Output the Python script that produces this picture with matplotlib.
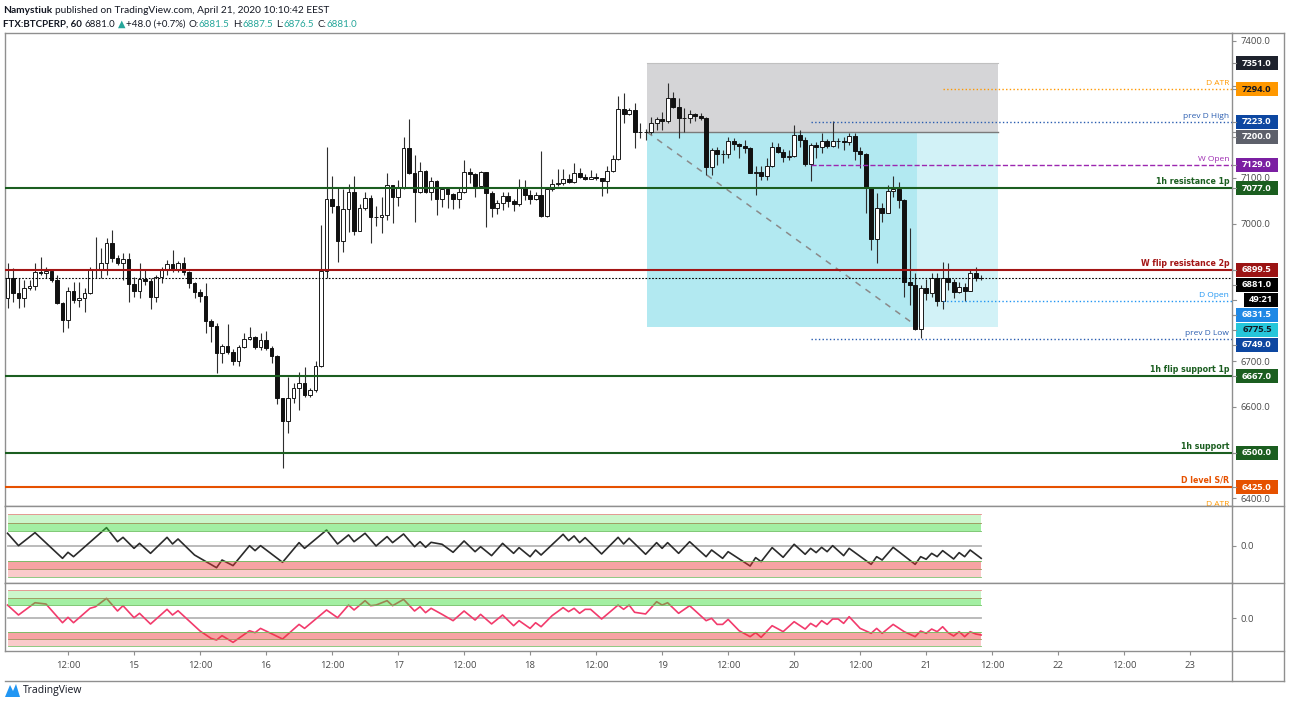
import numpy as np
import pandas as pd
import matplotlib
matplotlib.use("Agg")
import matplotlib.pyplot as plt
from matplotlib.patches import Rectangle, Polygon
from matplotlib.lines import Line2D

plt.rcParams["font.family"] = ["Open Sans", "DejaVu Sans"]

W, H = 1290, 706

# FTX:BTCPERP hourly candles, first bar 14 Apr 2020 01:00 (EEST)
first_bar = "2020-04-14 01:00"
open0 = 6838
closes = [
    6882, 6849, 6838, 6860, 6864, 6895, 6893, 6896, 6877, 6827,
    6790, 6853, 6834, 6838, 6849, 6899, 6901, 6914, 6958, 6925,
    6914, 6923, 6868, 6853, 6879, 6875, 6840, 6884, 6899, 6912,
    6899, 6914, 6895, 6871, 6851, 6842, 6788, 6777, 6718, 6733,
    6720, 6700, 6731, 6748, 6753, 6731, 6746, 6729, 6711, 6620,
    6569, 6620, 6642, 6652, 6626, 6637, 6689, 6897, 7054, 7039,
    6962, 7032, 7069, 6984, 7034, 7056, 7015, 7015, 7019, 7085,
    7058, 7078, 7166, 7111, 7069, 7115, 7069, 7093, 7054, 7076,
    7065, 7054, 7069, 7113, 7109, 7082, 7113, 7067, 7034, 7045,
    7061, 7050, 7043, 7080, 7063, 7054, 7063, 7017, 7076, 7087,
    7089, 7098, 7091, 7111, 7102, 7098, 7102, 7101, 7093, 7115,
    7141, 7251, 7240, 7248, 7200, 7200, 7200, 7220, 7229, 7224,
    7275, 7255, 7231, 7231, 7240, 7235, 7231, 7124, 7161, 7152,
    7152, 7181, 7174, 7170, 7165, 7111, 7113, 7104, 7126, 7168,
    7157, 7146, 7148, 7194, 7183, 7130, 7172, 7168, 7181, 7170,
    7181, 7181, 7179, 7192, 7159, 7152, 7080, 6967, 7034, 7024,
    7072, 7076, 7052, 6873, 6866, 6770, 6860, 6849, 6882, 6831.5,
    6882, 6873, 6851, 6862, 6853, 6893, 6881.5, 6881.0,
]
highs = [
    6914, 6903, 6882, 6877, 6877, 6914, 6927, 6905, 6899, 6888,
    6829, 6862, 6873, 6873, 6860, 6906, 6971, 6947, 6969, 6986,
    6932, 6936, 6936, 6884, 6914, 6899, 6882, 6888, 6906, 6921,
    6943, 6919, 6927, 6897, 6873, 6857, 6871, 6792, 6783, 6737,
    6781, 6726, 6735, 6761, 6775, 6755, 6761, 6766, 6733, 6713,
    6620, 6665, 6652, 6676, 6687, 6641, 6700, 6997, 7167, 7104,
    7078, 7076, 7087, 7104, 7043, 7069, 7063, 7039, 7058, 7111,
    7080, 7096, 7190, 7229, 7150, 7135, 7117, 7102, 7096, 7078,
    7078, 7067, 7078, 7139, 7122, 7111, 7115, 7113, 7072, 7052,
    7069, 7069, 7054, 7098, 7096, 7074, 7069, 7159, 7078, 7098,
    7119, 7119, 7109, 7133, 7122, 7109, 7117, 7111, 7100, 7126,
    7150, 7279, 7286, 7253, 7264, 7220, 7207, 7233, 7233, 7244,
    7307, 7288, 7275, 7253, 7248, 7242, 7242, 7233, 7165, 7168,
    7161, 7190, 7187, 7176, 7183, 7168, 7126, 7126, 7143, 7178,
    7176, 7163, 7161, 7216, 7205, 7190, 7176, 7179, 7198, 7185,
    7225, 7187, 7190, 7198, 7198, 7168, 7154, 7080, 7067, 7045,
    7085, 7104, 7091, 7054, 6991, 6892, 6866, 6879, 6892, 6892,
    6917, 6914, 6879, 6873, 6871, 6899, 6905, 6887.5,
]
lows = [
    6816, 6829, 6816, 6818, 6855, 6855, 6888, 6881, 6873, 6825,
    6764, 6772, 6827, 6818, 6807, 6847, 6881, 6881, 6888, 6916,
    6910, 6877, 6829, 6840, 6838, 6866, 6814, 6829, 6871, 6888,
    6895, 6895, 6888, 6860, 6838, 6829, 6761, 6742, 6674, 6696,
    6716, 6692, 6689, 6729, 6746, 6727, 6724, 6724, 6696, 6606,
    6467, 6543, 6609, 6593, 6622, 6622, 6633, 6687, 6882, 7024,
    6917, 6938, 6982, 6976, 6984, 7030, 6958, 6995, 6980, 7008,
    7002, 7039, 7076, 7109, 7004, 7067, 7067, 7052, 7019, 7037,
    7034, 7032, 7034, 7067, 7089, 7058, 7078, 6993, 7015, 7021,
    7030, 7037, 7028, 7039, 7052, 7043, 7052, 7015, 7015, 7071,
    7082, 7085, 7089, 7089, 7100, 7096, 7098, 7096, 7061, 7067,
    7113, 7139, 7220, 7237, 7165, 7187, 7183, 7196, 7205, 7205,
    7220, 7253, 7187, 7200, 7220, 7224, 7226, 7106, 7106, 7128,
    7132, 7143, 7161, 7143, 7154, 7111, 7063, 7096, 7096, 7124,
    7154, 7135, 7139, 7146, 7168, 7126, 7093, 7143, 7154, 7165,
    7168, 7165, 7161, 7172, 7139, 7122, 7023, 6943, 6914, 7004,
    7026, 7058, 7034, 6840, 6823, 6768, 6750, 6833, 6840, 6820,
    6814, 6855, 6838, 6849, 6831, 6853, 6875, 6876.5,
]

# two oscillators (turning points only: bar number, value)
osc_black = [
    (1, 1.19), (3, 0.0), (6, 1.25), (11, -1.22), (12, -0.64), (13, -1.06), (19, 1.73),
    (21, 0.38), (22, 0.8), (24, -0.26), (25, 0.22), (27, -0.74), (30, 0.8), (31, 0.16),
    (32, 0.64), (35, -0.9), (39, -2.12), (40, -1.38), (42, -1.92), (45, 0.0), (46, -0.48),
    (47, 0.0), (51, -1.6), (54, 0.29), (55, -0.26), (59, 1.5), (61, 0.16), (63, 1.03),
    (64, 0.38), (66, 1.19), (68, -0.03), (70, 0.87), (71, 0.29), (73, 1.12), (75, -0.1),
    (76, 0.38), (77, -0.16), (78, 0.32), (80, 0.13), (82, -0.64), (84, 0.45), (86, -0.58),
    (87, -0.1), (89, -0.96), (91, 0.22), (93, -0.74), (94, -0.19), (96, -1.06), (97, -0.42),
    (98, -0.9), (102, 1.09), (103, 0.48), (104, 0.93), (105, 0.29), (106, 0.77), (109, -0.8),
    (112, 0.8), (113, 0.16), (114, 0.71), (117, -0.83), (119, 0.29), (120, -0.26), (121, 0.29),
    (123, -0.74), (125, 0.38), (128, -1.06), (129, -0.42), (131, -1.22), (132, -0.58),
    (136, -1.96), (137, -1.15), (138, -1.54), (140, -0.19), (142, -1.12), (144, 0.13),
    (146, -0.83), (147, -0.26), (148, -0.67), (149, -0.16), (150, -0.58), (151, 0.0),
    (153, -0.96), (154, -0.26), (158, -1.8), (159, -1.06), (160, -1.38), (162, -0.16),
    (166, -1.8), (167, -1.06), (168, -1.31), (169, -0.74), (170, -1.06), (171, -0.48),
    (173, -1.28), (174, -0.67), (175, -1.06), (176, -0.42), (178, -1.22),
]
osc_pink = [
    (1, 1.43), (3, 0.36), (6, 1.68), (8, 1.54), (11, -0.47), (12, 0.11), (13, -0.47),
    (16, 1.08), (17, 1.25), (19, 2.15), (21, 0.79), (22, 1.36), (24, 0.07), (25, 0.54),
    (27, -0.61), (30, 0.97), (31, 0.36), (32, 0.82), (36, -1.36), (38, -2.15), (39, -2.33),
    (40, -1.86), (42, -2.58), (45, -1.33), (46, -1.54), (47, -1.08), (51, -2.22), (54, -0.65),
    (55, -1.08), (59, 0.9), (61, 0.07), (63, 1.43), (64, 0.9), (66, 1.9), (67, 1.36),
    (68, 1.43), (70, 1.9), (71, 1.36), (73, 2.04), (75, 0.79), (76, 1.25), (77, 0.61),
    (78, 1.08), (80, 0.43), (82, -0.25), (84, 0.79), (86, -0.18), (87, 0.43), (89, -0.6),
    (91, 0.36), (93, -0.79), (94, -0.25), (96, -1.08), (97, -0.47), (98, -0.9), (100, 0.29),
    (102, 1.15), (103, 0.72), (104, 1.08), (105, 0.54), (106, 0.97), (107, 0.97), (109, -0.07),
    (112, 1.43), (113, 0.97), (114, 1.43), (115, 0.65), (117, 0.47), (119, 1.79), (120, 1.43),
    (121, 1.68), (123, 0.54), (125, 1.36), (128, -0.25), (129, 0.0), (130, -0.65), (131, -0.65),
    (132, -0.11), (134, -1.33), (136, -1.97), (137, -1.54), (138, -2.04), (140, -0.79),
    (142, -1.43), (144, -0.36), (146, -1.15), (147, -0.54), (148, -0.9), (149, -0.25),
    (150, -0.65), (151, -0.07), (152, -0.07), (153, -0.54), (154, 0.18), (156, -1.08),
    (158, -1.61), (159, -1.08), (160, -1.61), (162, -0.65), (164, -1.43), (166, -1.97),
    (167, -1.36), (168, -1.61), (169, -1.15), (170, -1.43), (171, -0.9), (172, -1.54),
    (173, -1.9), (174, -1.43), (175, -1.97), (176, -1.43), (177, -1.68), (178, -1.79),
]
band_levels = [1.45, 2.2, 3.0]

# levels across the full chart
full_prices = [7077, 6899.5, 6667, 6500, 6425]
full_names = ["1h resistance 1p", "W flip resistance 2p", "1h flip support 1p", "1h support", "D level S/R"]
full_colors = ["#1b5e20", "#a31515", "#1b5e20", "#1b5e20", "#e65100"]

# levels starting at a given time
part_prices = [7294, 7223, 7129, 6831.5, 6749]
part_names = ["D ATR", "prev D High", "W Open", "D Open", "prev D Low"]
part_starts = ["2020-04-21 03:00", "2020-04-20 03:00", "2020-04-20 03:00", "2020-04-21 03:00", "2020-04-20 03:00"]
part_colors = ["#ff9800", "#2a5db0", "#9c27b0", "#2196f3", "#2a5db0"]
part_styles = [":", ":", "--", ":", ":"]
part_tag_colors = ["#ff9800", "#0d47a1", "#7b1fa2", "#1e88e5", "#0d47a1"]

# short position tool
pos_entry, pos_stop, pos_target = 7200, 7351, 6775.5
pos_start, pos_hit, pos_end = "2020-04-18 21:18", "2020-04-20 22:24", "2020-04-21 13:06"

last_price = 6881.0
countdown = "49:21"

tick_labels = ["12:00", "15", "12:00", "16", "12:00", "17", "12:00", "18", "12:00",
               "19", "12:00", "20", "12:00", "21", "12:00", "22", "12:00", "23"]

base = pd.Timestamp("2020-04-14 00:00")


def hrs(ts):
    return (pd.to_datetime(ts) - base) / pd.Timedelta(hours=1)


t = np.asarray(hrs(pd.date_range(first_bar, periods=len(closes), freq="h")))
c = np.array(closes, float)
o = np.concatenate([[open0], c[:-1]])
hi = np.array(highs, float)
lo = np.array(lows, float)

fig = plt.figure(figsize=(W / 100, H / 100), dpi=100)


def rect(x0, y0, x1, y1):
    return [x0 / W, 1 - y1 / H, (x1 - x0) / W, (y1 - y0) / H]


ax = fig.add_axes(rect(5, 33, 1232, 506))
ax2 = fig.add_axes(rect(5, 506, 1232, 583), sharex=ax)
ax3 = fig.add_axes(rect(5, 583, 1232, 651), sharex=ax)

ax.set_xlim(0.545, 223.6)
ax.set_ylim(6383.6, 7416.6)
border = "#8f8f8f"
for a in (ax, ax2, ax3):
    for s in a.spines.values():
        s.set_color(border)
        s.set_linewidth(1)
    a.tick_params(axis="x", bottom=False, labelbottom=False)
    a.yaxis.tick_right()
    a.tick_params(axis="y", length=3, color=border, labelsize=6.8, labelcolor="#4a4a4a", pad=3)

# position tool
x0, xh, x1 = hrs(pos_start), hrs(pos_hit), hrs(pos_end)
ax.add_patch(Rectangle((x0, pos_entry), x1 - x0, pos_stop - pos_entry, facecolor="#d5d5d7", edgecolor="none", zorder=1))
ax.add_patch(Rectangle((x0, pos_target), xh - x0, pos_entry - pos_target, facecolor="#b2e9f1", edgecolor="none", zorder=1))
ax.add_patch(Rectangle((xh, pos_target), x1 - xh, pos_entry - pos_target, facecolor="#d2f2f7", edgecolor="none", zorder=1))
ax.plot([x0, x1], [pos_entry, pos_entry], color="#7a7a7a", lw=1, zorder=1.5)
ax.plot([x0, x1], [pos_stop, pos_stop], color="#c0c0c0", lw=0.8, zorder=1.5)
ax.plot([x0, xh], [pos_entry, pos_target], color="#8a8a8a", lw=1.1, ls=(0, (4, 4)), zorder=2)

# candles
up = c >= o
ax.vlines(t, lo, hi, color="#2e2e2e", lw=0.8, zorder=3)
ax.bar(t[up], (c - o)[up], bottom=o[up], width=0.7, color="white", edgecolor="#1a1a1a", lw=0.7, zorder=4)
ax.bar(t[~up], (c - o)[~up], bottom=o[~up], width=0.7, color="#111111", edgecolor="#111111", lw=0.7, zorder=4)

# levels
lab = dict(xycoords=ax.get_yaxis_transform(), xytext=(-2, 1.5), textcoords="offset points",
           ha="right", va="bottom", zorder=6)
for p, n, col in zip(full_prices, full_names, full_colors):
    ax.axhline(p, color=col, lw=1.5, zorder=5)
    ax.annotate(n, xy=(1, p), color=col, fontsize=5.7, fontweight="bold", family="DejaVu Sans", **lab)
for p, n, st, col, ls in zip(part_prices, part_names, part_starts, part_colors, part_styles):
    ax.plot([hrs(st), 223.6], [p, p], color=col, lw=1, ls=ls, zorder=5)
    ax.annotate(n, xy=(1, p), color=col, fontsize=6, **lab)
ax.axhline(last_price, color="black", lw=0.8, ls=(0, (1.5, 1.5)), zorder=5)
# lower D ATR line lies below the view, only its label peeks in
low_atr = ax.annotate("D ATR", xy=(1, 6374), color="#ff9800", fontsize=6, annotation_clip=False, **lab)
low_atr.set_clip_path(ax.patch)

ticks = np.arange(6400, 7401, 100)
hidden = {7300, 7200, 6900, 6800, 6500}
ax.set_yticks(ticks)
ax.set_yticklabels(["" if v in hidden else f"{v:.1f}" for v in ticks])

# price tags on the right scale
tags = [(pos_stop, "#1e222d", "white"), (pos_entry, "#5d606b", "white"), (pos_target, "#26c6da", "#131722")]
tags += [(p, col, "white") for p, col in zip(full_prices, ["#1b5e20", "#9b1414", "#1b5e20", "#1b5e20", "#e65100"])]
tags += [(p, col, "#131722" if col == "#ff9800" else "white") for p, col in zip(part_prices, part_tag_colors)]
tags.append((last_price, "#000000", "white"))
tags.sort(key=lambda r: -r[0])

prev = -100
for p, bg, fg in tags:
    y = H - ax.transData.transform((0, p))[1]
    y = max(y, prev + 15)
    prev = y
    entries = [(y, f"{p:.1f}", bg, fg, 1236)]
    if p == last_price:
        prev = y + 15
        entries.append((prev, countdown, "#000000", "white", 1244))
    for yy, s, b, f, xl in entries:
        fig.add_artist(Rectangle((xl / W, 1 - (yy + 7) / H), (1278 - xl) / W, 14 / H,
                                 transform=fig.transFigure, facecolor=b, edgecolor="none", zorder=5))
        fig.add_artist(Line2D([1232 / W, 1236 / W], [1 - yy / H] * 2, color=border, lw=0.8, zorder=5))
        fig.text((xl + 1278) / 2 / W, 1 - yy / H, s, color=f, fontsize=6.8, fontweight="bold",
                 ha="center", va="center", zorder=6)

# oscillator panes
for a, pts, col, lim in ((ax2, osc_black, "#2b2b2b", (-3.59, 3.81)), (ax3, osc_pink, "#f23b6c", (-3.51, 3.8))):
    xs = [t[0], t[-1]]
    b1, b2, b3 = band_levels
    a.plot(xs, [0, 0], color="#b5b5b5", lw=1.3, zorder=1)
    a.plot(np.asarray(hrs(pd.Timestamp(first_bar) + pd.to_timedelta([i - 1 for i, _ in pts], unit="h"))),
           [v for _, v in pts], color=col, lw=1.2, zorder=2)
    a.fill_between(xs, b2, b3, color="#33dd33", alpha=0.25, lw=0, zorder=3)
    a.fill_between(xs, b1, b2, color="#33dd33", alpha=0.45, lw=0, zorder=3)
    a.fill_between(xs, -b2, -b1, color="#ee3333", alpha=0.45, lw=0, zorder=3)
    a.fill_between(xs, -b3, -b2, color="#ee3333", alpha=0.25, lw=0, zorder=3)
    for v, lc in ((b3, "#e88a8a"), (b2, "#a0905a"), (b1, "#6abf5e"), (-b1, "#6abf5e"), (-b2, "#a0905a"), (-b3, "#7fbf6e")):
        a.plot(xs, [v, v], color=lc, lw=0.6, zorder=3.5)
    a.set_ylim(*lim)
    a.set_yticks([0])
    a.set_yticklabels(["0.0"])

ax3.set_xticks(np.arange(12, 217, 12))
ax3.set_xticklabels(tick_labels)
ax3.tick_params(axis="x", bottom=True, labelbottom=True, length=3, color=border,
                labelsize=6.8, labelcolor="#4a4a4a", pad=4)

# frame around price scale / time scale
for xs_, ys_ in (([5, 1284], [681, 681]), ([1284, 1284], [33, 681]), ([1232, 1232], [651, 681]),
                 ([1232, 1284], [33, 33]), ([1232, 1284], [506, 506]), ([1232, 1284], [583, 583]),
                 ([1232, 1284], [651, 651])):
    fig.add_artist(Line2D([x / W for x in xs_], [1 - y / H for y in ys_], color=border, lw=1))

# header
r = fig.canvas.get_renderer()


def text_row(x, y, parts, size):
    for s, col, wt, gap in parts:
        tx = fig.text(x / W, 1 - y / H, s, color=col, fontsize=size, fontweight=wt, va="baseline",
                      family=["Lato", "DejaVu Sans"])
        x += tx.get_window_extent(r).width + gap


dark, teal = "#131722", "#26a69a"
text_row(3, 13, [("Namystiuk", dark, "bold", 3),
                 ("published on TradingView.com, April 21, 2020 10:10:42 EEST", dark, "normal", 0)], 7.3)
text_row(3, 27, [("FTX:BTCPERP, 60", dark, "bold", 3), ("6881.0", dark, "normal", 2), ("▲", teal, "normal", 1),
                 ("+48.0 (+0.7%)", dark, "normal", 3), ("O:", dark, "normal", 0), ("6881.5", teal, "normal", 3),
                 ("H:", dark, "normal", 0), ("6887.5", teal, "normal", 3), ("L:", dark, "normal", 0),
                 ("6876.5", teal, "normal", 3), ("C:", dark, "normal", 0), ("6881.0", teal, "normal", 0)], 7.0)

# logo
fig.add_artist(Polygon([(5 / W, 1 - 697 / H), (10 / W, 1 - 685 / H), (13 / W, 1 - 691 / H),
                        (16 / W, 1 - 684 / H), (20 / W, 1 - 697 / H)], closed=True,
                       transform=fig.transFigure, facecolor="#2196f3", edgecolor="none"))
fig.text(23 / W, 1 - 690 / H, "TradingView", color=dark, fontsize=7.5, va="center")

fig.savefig("out.png", dpi=100, facecolor="white")
